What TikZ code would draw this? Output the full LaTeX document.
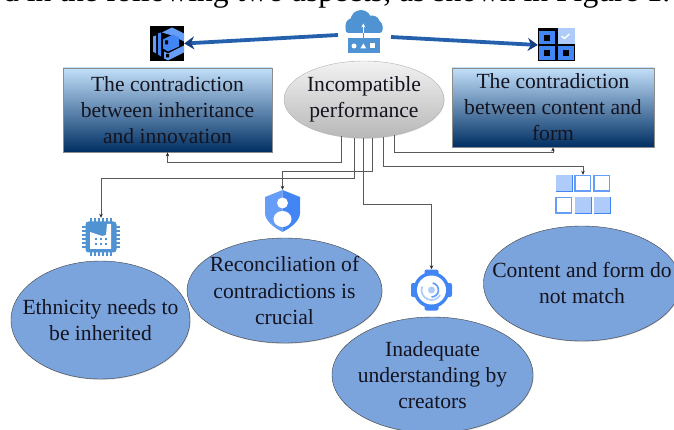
\documentclass[tikz,border=0pt]{standalone}
\usepackage{fontspec}
\setmainfont{Liberation Serif}
\usetikzlibrary{shapes.geometric,arrows.meta,shadows}

\definecolor{leafblue}{HTML}{7BA3DC}
\definecolor{iconblue}{HTML}{4F93D2}
\definecolor{gblue}{HTML}{4285F4}
\definecolor{gmid}{HTML}{669DF6}
\definecolor{glight}{HTML}{AECBFA}
\definecolor{inktext}{HTML}{141420}
\definecolor{boxtop}{HTML}{C2DFFA}
\definecolor{boxmid}{HTML}{5F90C4}
\definecolor{boxlow}{HTML}{002F63}
\definecolor{shaftblue}{HTML}{2460AC}
\definecolor{tipblue}{HTML}{173F7F}

\tikzset{
  leaf/.style={ellipse,draw=black!75,fill=leafblue,inner sep=-20pt,align=center,text=inktext,
    font=\fontsize{21.6}{26}\selectfont,drop shadow={shadow xshift=.6pt,shadow yshift=-.8pt,opacity=.35}},
  sidebox/.style={rectangle,draw=black!45,line width=.8pt,inner sep=0,align=center,text=inktext,
    font=\fontsize{21.6}{26}\selectfont,top color=boxtop,middle color=boxmid,bottom color=boxlow},
  iconbox/.style={rectangle,inner sep=0},
  flowline/.style={draw=black!65,line width=.7pt,-{Stealth[length=4pt,width=3.5pt,color=black!85]}},
  bigarrow/.style={draw=shaftblue,line width=3.8pt,-{Stealth[length=10pt,width=13pt,color=tipblue]}},
  chipicon/.pic={
    \foreach \s in {-10,-6,-2,2,6,10}{
      \draw[iconblue,line width=1.1pt] (\s,-19) -- (\s,19);
      \draw[iconblue,line width=1.1pt] (-19,\s) -- (19,\s);
    }
    \fill[iconblue,rounded corners=3pt] (-15.5,-15.5) rectangle (15.5,15.5);
    \fill[white] (-11,12) -- (-11,-5) -- (1,-1) -- (5,-2) -- (6,-13) -- (10,-13) -- (10,12) -- cycle;
    \foreach \s in {-5,0,5}{
      \fill[iconblue] (\s-1,1.5) rectangle (\s+1,3.5);
      \fill[iconblue] (\s-1,6) rectangle (\s+1,8);
    }
  },
  shieldicon/.pic={
    \fill[gmid] (0,-21) -- (-17.5,-14) -- (-17.5,2) .. controls (-17.5,10) and (-8,17) .. (0,21) -- cycle;
    \fill[gblue] (0,-21) -- (17.5,-14) -- (17.5,2) .. controls (17.5,10) and (8,17) .. (0,21) -- cycle;
    \fill[white] (0,-8) circle (5.5);
    \fill[white] (0,8) ellipse (9 and 8);
  },
  gearicon/.pic={
    \fill[gblue] (0,0) circle (18);
    \fill[gblue,rounded corners=2pt] (-7,-20.5) rectangle (7,20.5);
    \fill[gblue,rounded corners=2pt] (-20.5,-7) rectangle (20.5,7);
    \fill[white] (0,0) circle (14.5);
    \draw[glight,line width=1.7pt] (-9.4,-3.4) arc[start angle=200,end angle=30,radius=10];
    \draw[gmid,line width=1.7pt] (1.2,-6.9) arc[start angle=-80,end angle=90,radius=7];
    \fill[glight] (0,0) circle (3.5);
  },
  gridicon/.pic={
    \foreach \x/\y in {-27.5/-19.5,-8.5/2.5,10.5/2.5}{
      \fill[glight] (\x,\y) rectangle ++(16.5,16.5);
      \draw[gblue,line width=1pt] (\x,\y+16.5) -- ++(16.5,0) -- ++(0,-16.5);
    }
    \foreach \x/\y in {-8/-19,11/-19,-27/3}{
      \draw[gmid,line width=1.8pt,fill=white] (\x,\y) rectangle ++(15.5,15.5);
    }
  },
  cloudicon/.pic={
    \fill[iconblue] (-11,-6) circle (7.5) (-3,-11) circle (10.5) (8,-8) circle (8) (12,-5) circle (6.5);
    \fill[iconblue,rounded corners=3pt] (-18.5,-8) rectangle (18.5,1.5);
    \fill[iconblue] (-16,6.5) rectangle (16,21.5);
    \fill[iconblue] (-1.5,1) rectangle (.1,7);
    \draw[white,line width=1pt,-{Stealth[length=4pt,width=4pt]}] (-.7,1.5) -- (-.7,-8);
    \fill[white] (-10,14.5) circle (2.5);
    \fill[white] (-3.7,17) -- (-.7,12) -- (2.3,17) -- cycle;
    \fill[white] (5.5,12) rectangle (10.5,17);
  },
  cubesicon/.pic={
    \fill[black] (-17,-17.5) rectangle (17,17.5);
    \fill[gmid] (-5,-11) -- (5,-16) -- (17,-10) -- (17,-2) -- (5,-8) -- cycle;
    \fill[gblue] (-4,-4) -- (6,-9) -- (12,-6) -- (12,3) -- (1,8) -- (-4,5) -- cycle;
    \fill[gmid] (-3,8) -- (1,10) -- (17,2) -- (17,9) -- (1,17) -- (-3,15) -- cycle;
    \fill[gmid] (-14,-7) -- (-11,-8) -- (-11,10) -- (-14,8) -- cycle;
    \fill[gblue] (-9,-10) -- (-6,-11) -- (-6,13) -- (-9,11) -- cycle;
    \fill[black] (-2,-3) rectangle (1,1) (-1,10.5) rectangle (2,14);
  },
  checkicon/.pic={
    \fill[black] (-18.5,-17) rectangle (18.5,16);
    \fill[glight] (1,-17) rectangle (18.5,-1);
    \draw[white,line width=1.4pt] (5,-9) -- (8,-6.5) -- (13,-11);
    \foreach \x/\y in {-18/-14,-18/1,1/1}{
      \fill[gblue] (\x,\y) rectangle ++(16,14);
      \fill[black] (\x+5,\y+4) rectangle ++(6,6);
    }
    \fill[black] (-2,-17) rectangle (1,16);
    \fill[black] (-18.5,-1) rectangle (18.5,1);
  },
}

\begin{document}
\begin{tikzpicture}[x=1pt,y=-1pt]
\clip[use as bounding box] (0,0) rectangle (674,430);

\node[anchor=base west,font=\fontsize{31.6}{34}\selectfont,inner sep=0] (head) at (3,1.5) {d in the following two aspects, as shown in Figure 1.};

\node[sidebox,minimum width=209,minimum height=84] (inherit) at (167.5,110) {The contradiction\\between inheritance\\and innovation};
\node[sidebox,minimum width=202,minimum height=79] (form) at (553,107.5) {The contradiction\\between content and\\form};
\node[ellipse,draw=black!30,top color=black!5,bottom color=black!28,inner sep=-20pt,align=center,text=inktext,
  font=\fontsize{21.6}{26}\selectfont,minimum width=160,minimum height=77,
  drop shadow={shadow xshift=.6pt,shadow yshift=-.8pt,opacity=.3}] (perf) at (364,99.5) {Incompatible\\performance};

\node[leaf,minimum width=179,minimum height=118] (ethnic) at (100.5,320) {Ethnicity needs to\\be inherited};
\node[leaf,minimum width=195,minimum height=105] (crucial) at (284.5,290.5) {Reconciliation of\\contradictions is\\crucial};
\node[leaf,minimum width=201,minimum height=116] (creators) at (432.5,375) {Inadequate\\understanding by\\creators};
\node[leaf,minimum width=196,minimum height=115] (match) at (582,283.5) {Content and form do\\not match};

\node[iconbox,minimum width=37,minimum height=43] (cloud) at (364,31.5) {};
\node[iconbox,minimum width=34,minimum height=35] (cubes) at (167,43.5) {};
\node[iconbox,minimum width=37,minimum height=33] (check) at (556.5,45) {};
\node[iconbox,minimum width=38,minimum height=38] (chip) at (101,237) {};
\node[iconbox,minimum width=35,minimum height=42] (shield) at (282.5,211) {};
\node[iconbox,minimum width=41,minimum height=41] (gear) at (431.5,290) {};
\node[iconbox,minimum width=56,minimum height=39] (grid) at (583,194.5) {};

\pic at (cloud) {cloudicon};
\pic at (cubes) {cubesicon};
\pic at (check) {checkicon};
\pic at (chip) {chipicon};
\pic at (shield) {shieldicon};
\pic at (gear) {gearicon};
\pic at (grid) {gridicon};

\coordinate (outA) at (341,136.4);
\coordinate (outB) at (354,138);
\coordinate (outC) at (363,138);
\coordinate (outD) at (372,138);
\coordinate (outE) at (383,136.9);
\coordinate (outF) at (394,135.2);
\coordinate (cloudL) at (338,35);
\coordinate (cloudR) at (391,37);

\draw[bigarrow] (cloudL) -- (cubes.east);
\draw[bigarrow] (cloudR) -- (check.west);

\draw[flowline] (outA) -- ++(0,25.6) -| (inherit.south);
\draw[flowline] (outB) -- ++(0,40) -| (chip.north);
\draw[flowline] (outC) -- ++(0,66) -| (gear.north);
\draw[flowline] (outD) -- ++(0,33) -| (shield.north);
\draw[flowline] (outE) -- ++(0,29) -| (grid.north);
\draw[flowline] (outF) -- ++(0,16.8) -| (form.south);

\end{tikzpicture}
\end{document}
